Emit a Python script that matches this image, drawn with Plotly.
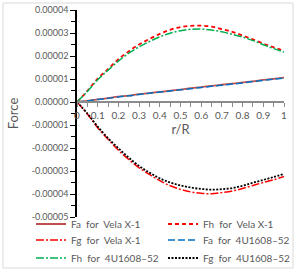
import plotly.graph_objects as go

r = [0, 0.05, 0.1, 0.15, 0.2, 0.25, 0.3, 0.35, 0.4, 0.45, 0.5,
     0.55, 0.6, 0.65, 0.7, 0.75, 0.8, 0.85, 0.9, 0.95, 1.0]

fa_vela = [0, 0.05e-5, 0.11e-5, 0.17e-5, 0.23e-5, 0.28e-5, 0.34e-5, 0.39e-5, 0.44e-5, 0.49e-5, 0.54e-5,
           0.60e-5, 0.65e-5, 0.70e-5, 0.75e-5, 0.80e-5, 0.85e-5, 0.90e-5, 0.96e-5, 1.01e-5, 1.06e-5]
fh_vela = [0, 0.48e-5, 1.02e-5, 1.43e-5, 1.86e-5, 2.20e-5, 2.50e-5, 2.74e-5, 2.96e-5, 3.14e-5, 3.26e-5,
           3.31e-5, 3.32e-5, 3.28e-5, 3.17e-5, 3.05e-5, 2.89e-5, 2.72e-5, 2.54e-5, 2.38e-5, 2.22e-5]
fg_vela = [0, -0.52e-5, -1.12e-5, -1.62e-5, -2.10e-5, -2.50e-5, -2.86e-5, -3.15e-5, -3.42e-5, -3.64e-5, -3.80e-5,
           -3.91e-5, -3.97e-5, -3.99e-5, -3.94e-5, -3.87e-5, -3.76e-5, -3.63e-5, -3.50e-5, -3.38e-5, -3.24e-5]
fa_4u = [0, 0.05e-5, 0.11e-5, 0.16e-5, 0.22e-5, 0.27e-5, 0.33e-5, 0.38e-5, 0.43e-5, 0.48e-5, 0.53e-5,
         0.58e-5, 0.63e-5, 0.68e-5, 0.73e-5, 0.78e-5, 0.83e-5, 0.89e-5, 0.94e-5, 0.99e-5, 1.04e-5]
fh_4u = [0, 0.46e-5, 0.97e-5, 1.38e-5, 1.78e-5, 2.12e-5, 2.40e-5, 2.63e-5, 2.83e-5, 2.99e-5, 3.10e-5,
         3.16e-5, 3.17e-5, 3.13e-5, 3.05e-5, 2.94e-5, 2.82e-5, 2.67e-5, 2.49e-5, 2.32e-5, 2.17e-5]
fg_4u = [0, -0.50e-5, -1.07e-5, -1.57e-5, -2.01e-5, -2.42e-5, -2.78e-5, -3.07e-5, -3.32e-5, -3.50e-5, -3.63e-5,
         -3.72e-5, -3.78e-5, -3.81e-5, -3.79e-5, -3.74e-5, -3.64e-5, -3.51e-5, -3.39e-5, -3.26e-5, -3.13e-5]

names = ["Fa  for  Vela X-1", "Fh  for  Vela X-1", "Fg  for  Vela X-1",
         "Fa  for  4U1608\u201352", "Fh  for  4U1608\u201352", "Fg  for  4U1608\u201352"]

y_tickvals = [0.00004, 0.00003, 0.00002, 0.00001, 0.0, -0.00001, -0.00002, -0.00003, -0.00004, -0.00005]
y_ticktext = ["0.00004", "0.00003", "0.00002", "0.00001", "0.00000",
              "-0.00001", "-0.00002", "-0.00003", "-0.00004", "-0.00005"]
x_tickvals = [0, 0.1, 0.2, 0.3, 0.4, 0.5, 0.6, 0.7, 0.8, 0.9, 1]
x_ticktext = ["0", "0.1", "0.2", "0.3", "0.4", "0.5", "0.6", "0.7", "0.8", "0.9", "1"]

series = [fa_vela, fh_vela, fg_vela, fa_4u, fh_4u, fg_4u]
styles = [
    dict(color="#C0504D", dash="solid", width=1.8),
    dict(color="#FF0000", dash="4px,3px", width=1.8),
    dict(color="#FF0000", dash="8px,2px,2px,2px", width=1.5),
    dict(color="#0070C0", dash="7px,3px", width=1.5),
    dict(color="#00B050", dash="8px,2px,2px,2px", width=1.5),
    dict(color="#000000", dash="2px,1.5px", width=1.8),
]

W, H = 300, 276
ml, mr, mt, mb = 77, 16, 10, 59
pw, ph = W - ml - mr, H - mt - mb

# legend slot positions (pixels): column x, row y
col_x = [31, 163]
row_y = [224, 240, 258]

font_color = "#595959"
fig = go.Figure()
legends = {}
for i, (nm, ys, st) in enumerate(zip(names, series, styles)):
    key = "legend" if i == 0 else f"legend{i + 1}"
    fig.add_trace(go.Scatter(x=r, y=ys, mode="lines", name=nm, line=st,
                             line_shape="spline", showlegend=True, legend=key))
    cx = col_x[i % 2]
    ry = row_y[i // 2]
    legends[key] = dict(x=(cx - ml) / pw, y=(H - mb - ry) / ph,
                        xanchor="left", yanchor="middle",
                        font=dict(size=10, color=font_color), itemwidth=30,
                        bgcolor="rgba(0,0,0,0)", borderwidth=0)

fig.update_layout(
    width=W, height=H,
    margin=dict(l=ml, r=mr, t=mt, b=mb, pad=0, autoexpand=False),
    paper_bgcolor="white", plot_bgcolor="white",
    font=dict(family="Lato", size=9, color=font_color),
    showlegend=True,
    xaxis=dict(range=[0, 1], anchor="free", position=5 / 9,
               showline=True, linecolor="#8C8C8C", linewidth=2,
               ticks="outside", ticklen=4, tickcolor="#8C8C8C", tickwidth=1,
               tickvals=x_tickvals, ticktext=x_ticktext,
               minor=dict(ticks="outside", ticklen=4, tickcolor="#8C8C8C", dtick=0.05, showgrid=False),
               showgrid=False, zeroline=False,
               tickfont=dict(size=10, color=font_color),
               title=dict(text="r/R", font=dict(size=13, color=font_color), standoff=3)),
    yaxis=dict(range=[-0.00005, 0.00004],
               showline=True, linecolor="#000000", linewidth=1.5,
               ticks="outside", ticklen=5, tickcolor="#000000", tickwidth=1,
               tickvals=y_tickvals, ticktext=y_ticktext,
               minor=dict(ticks="outside", ticklen=4, tickcolor="#000000", dtick=0.000005, showgrid=False),
               showgrid=False, zeroline=False,
               tickfont=dict(size=9, color=font_color),
               title=dict(text="Force", font=dict(size=13, color=font_color), standoff=10)),
    **legends,
)

fig.add_shape(type="rect", xref="paper", yref="paper",
              x0=(3 - ml) / pw, x1=(293 - ml) / pw,
              y0=(H - mb - 268) / ph, y1=(H - mb - 3) / ph,
              line=dict(color="#D9D9D9", width=1), layer="below")

fig.write_html("out.html", config={"displayModeBar": False},
               post_script="document.body.style.margin='0';document.body.style.padding='0';")
